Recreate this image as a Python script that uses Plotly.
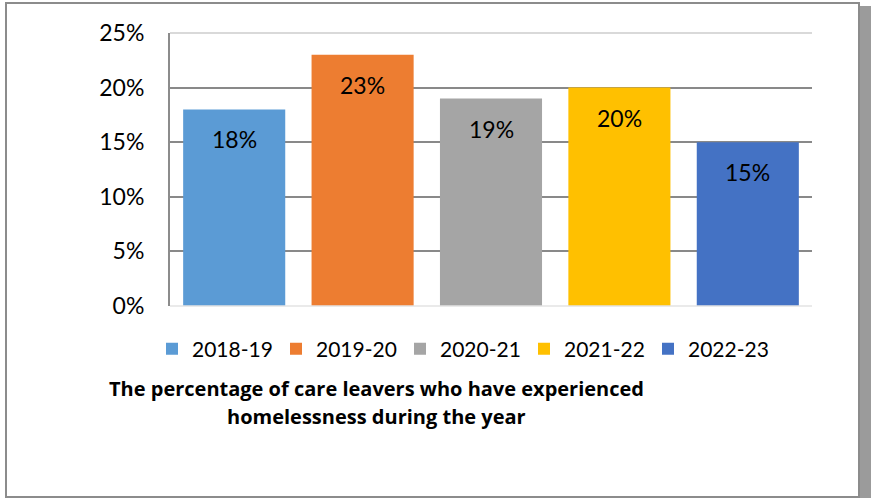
import plotly.graph_objects as go

years = ["2018-19", "2019-20", "2020-21", "2021-22", "2022-23"]
values = [0.18, 0.23, 0.19, 0.20, 0.15]
labels = ["18%", "23%", "19%", "20%", "15%"]
colors = ["#5B9BD5", "#ED7D31", "#A5A5A5", "#FFC000", "#4472C4"]
y_ticks = [0, 0.05, 0.10, 0.15, 0.20, 0.25]
y_tick_text = ["0%", "5%", "10%", "15%", "20%", "25%"]
title_lines = ["The percentage of care leavers who have experienced",
               "homelessness during the year"]

FONT = "Lato"
TITLE_FONT = "Open Sans"

fig = go.Figure()
for yr, v, c in zip(years, values, colors):
    fig.add_trace(go.Bar(x=[yr], y=[v], name=yr, marker=dict(color=c, line=dict(width=0)),
                         hoverinfo="skip"))

for yr, v, t in zip(years, values, labels):
    fig.add_annotation(x=yr, y=v, text=t, showarrow=False, yanchor="middle",
                       yshift=-30, font=dict(family=FONT, size=23, color="#000000"))

W, H = 871, 498
L, R, T, B = 170, 59, 33, 192
pw, ph = W - L - R, H - T - B

def px(x):
    return (x - L) / pw

def py(y):
    return (H - B - y) / ph

fig.add_annotation(x=px(376), y=py(388), xref="paper", yref="paper", text="<b>" + title_lines[0] + "</b>",
                   showarrow=False, xanchor="center", yanchor="middle",
                   font=dict(family=TITLE_FONT, size=20, color="#000000"))
fig.add_annotation(x=px(376), y=py(417), xref="paper", yref="paper", text="<b>" + title_lines[1] + "</b>",
                   showarrow=False, xanchor="center", yanchor="middle",
                   font=dict(family=TITLE_FONT, size=20, color="#000000"))

# chart border and shadow
fig.add_shape(type="rect", xref="paper", yref="paper", x0=px(860), x1=px(871), y0=py(498), y1=py(6),
              line=dict(width=0), fillcolor="#9b9b9b", layer="above")
fig.add_shape(type="rect", xref="paper", yref="paper", x0=px(6), x1=px(859), y0=py(497), y1=py(3),
              line=dict(width=2, color="#8c8c8c"), fillcolor="rgba(0,0,0,0)", layer="below")
fig.add_shape(type="line", xref="paper", yref="paper", x0=0, x1=1, y0=1, y1=1,
              line=dict(width=2, color="#d9d9d9"), layer="above")
fig.add_shape(type="line", xref="paper", yref="paper", x0=0, x1=1, y0=0, y1=0,
              line=dict(width=1.5, color="#e3e3e3"), layer="above")

fig.update_layout(
    width=W, height=H,
    margin=dict(l=L, r=R, t=T, b=B),
    paper_bgcolor="white", plot_bgcolor="white",
    barmode="overlay", bargap=0.205,
    showlegend=True,
    legend=dict(orientation="h", x=px(152), xanchor="left", y=py(349), yanchor="middle",
                font=dict(family=FONT, size=21, color="#000000"),
                entrywidth=79, entrywidthmode="pixels", traceorder="normal",
                bgcolor="rgba(0,0,0,0)"),
    font=dict(family=FONT),
)
fig.update_xaxes(showticklabels=False, showgrid=False, zeroline=False, showline=False,
                 categoryorder="array", categoryarray=years)
fig.update_yaxes(range=[0, 0.25], tickvals=y_ticks, ticktext=y_tick_text,
                 showgrid=True, gridcolor="#898989", gridwidth=2,
                 zeroline=False, showline=True, linecolor="#8c8c8c", linewidth=2,
                 ticks="", ticklabelstandoff=19,
                 tickfont=dict(family=FONT, size=23, color="#000000"))

fig.write_html("out.html", config={"displayModeBar": False},
               post_script=("document.documentElement.style.overflow='hidden';"
                            "document.body.style.margin='0';document.body.style.overflow='hidden';"))
